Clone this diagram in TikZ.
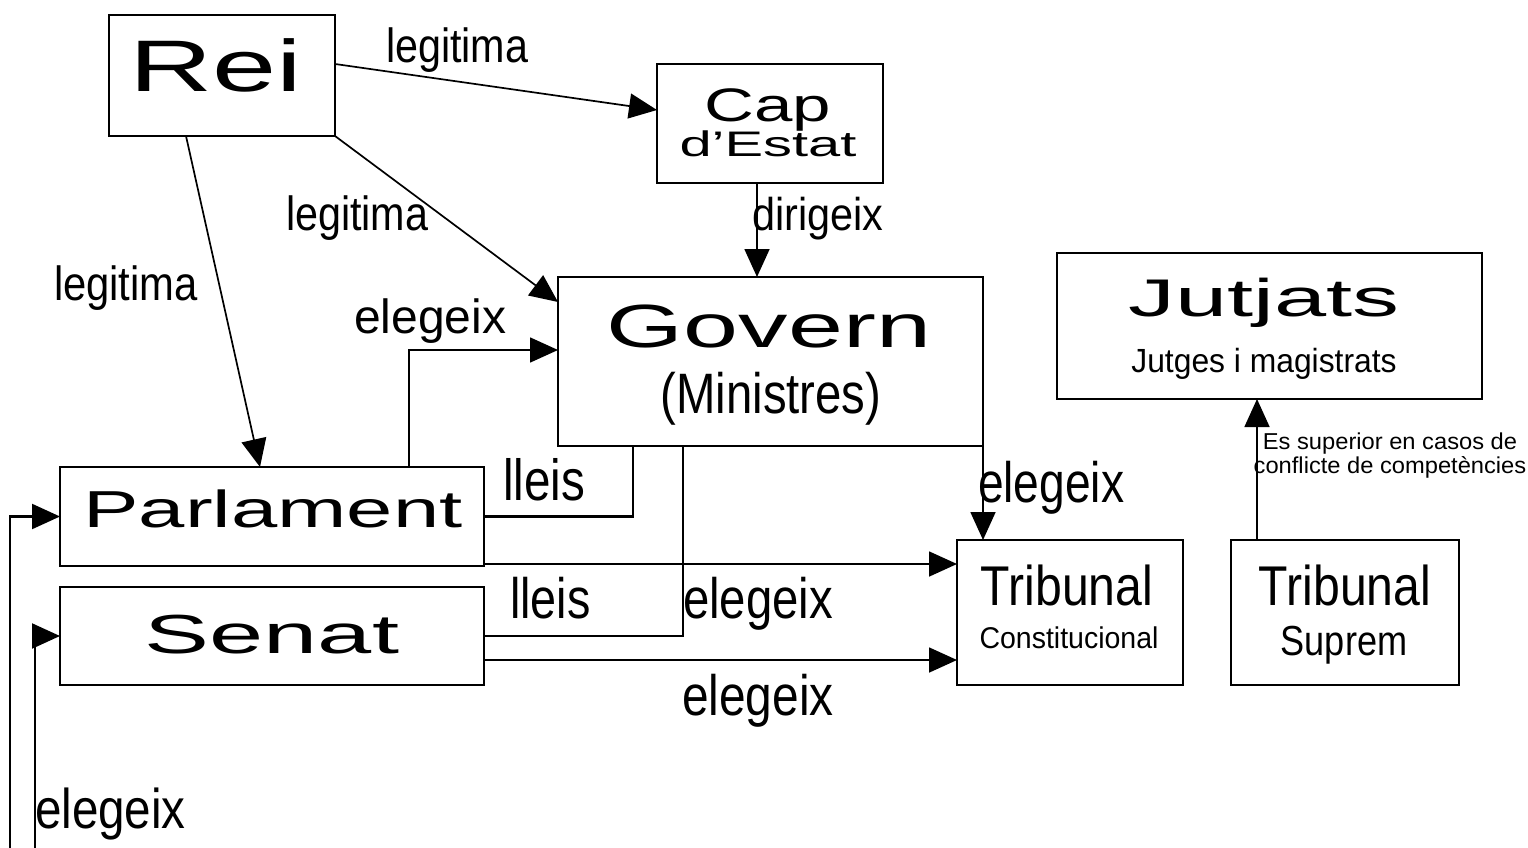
\documentclass[tikz,border=0pt]{standalone}
\usepackage{fontspec}
\setmainfont{Liberation Sans}
\usetikzlibrary{arrows.meta}
\newcommand\fs[2]{\fontspec[FakeStretch=#2]{Liberation Sans}\fontsize{#1pt}{#1pt}\selectfont}
\newcommand\fsl[3]{\fontspec[FakeStretch=#2]{Liberation Sans}\fontsize{#1pt}{#3pt}\selectfont}
\begin{document}
\begin{tikzpicture}[x=1pt,y=-1pt,
  box/.style={draw, line width=1.2pt, outer sep=0pt, inner sep=0pt},
  txt/.style={inner sep=0pt, outer sep=0pt, anchor=base},
  lab/.style={inner sep=0pt, outer sep=0pt, anchor=base west},
  conn/.style={line width=1.7pt},
  arr/.style={conn, -{Triangle[length=28pt,width=25pt]}},
  heavy/.style={line width=2.6pt}
]
\useasboundingbox[fill=white] (0,0) rectangle (1528,848);

% boxes
\node[box, minimum width=226pt, minimum height=121pt] (rei) at (222,75.5) {};
\node[box, minimum width=226pt, minimum height=119pt] (cap) at (770,123.5) {};
\node[box, minimum width=425pt, minimum height=169pt] (gov) at (770.5,361.5) {};
\node[box, minimum width=425pt, minimum height=146pt] (jut) at (1269.5,326) {};
\node[box, minimum width=424pt, minimum height=99pt] (parl) at (272,516.5) {};
\node[box, minimum width=424pt, minimum height=98pt] (sen) at (272,636) {};
\node[box, minimum width=226pt, minimum height=145pt] (tc) at (1070,612.5) {};
\node[box, minimum width=228pt, minimum height=145pt] (ts) at (1345,612.5) {};

% box texts
\node[txt, font=\fs{73}{1.58}] (trei) at (216,92) {Rei};
\node[txt, font=\fs{47}{1.47}] (tcap) at (768,122) {Cap};
\node[txt, font=\fs{35.5}{1.63}] (test) at (768,157) {d’Estat};
\node[txt, font=\fs{61}{1.62}] (tgov) at (769,347) {Govern};
\node[txt, font=\fs{57}{0.83}] (tmin) at (771,413) {(Ministres)};
\node[txt, font=\fs{53}{1.77}] (tjut) at (1264,316) {Jutjats};
\node[txt, font=\fs{33.5}{0.95}] (tjm) at (1264,372) {Jutges i magistrats};
\node[txt, font=\fs{52}{1.6}] (tparl) at (273,527) {Parlament};
\node[txt, font=\fs{55}{1.77}] (tsen) at (272,653) {Senat};
\node[txt, font=\fs{56}{0.86}] (ttc) at (1067,605) {Tribunal};
\node[txt, font=\fs{30}{0.95}] (tcon) at (1069,648) {Constitucional};
\node[txt, font=\fs{56}{0.86}] (tts) at (1345,605) {Tribunal};
\node[txt, font=\fs{42}{0.86}] (tsup) at (1344,655) {Suprem};

% connectors
\draw[arr] ([yshift=11.5pt]rei.east) -- ([yshift=13.5pt]cap.west);
\draw[arr] (rei.south east) -- ([yshift=59.5pt]gov.west);
\draw[arr] ([xshift=-36pt]rei.south) -- ([xshift=-12pt]parl.north);
\draw[arr] ([xshift=-13pt]cap.south) -- ([xshift=-13pt]cap.south |- gov.north);
\draw[arr] ([xshift=137pt]parl.north) |- ([yshift=11.5pt]gov.west);
\draw[heavy] ([xshift=-137.5pt]gov.south) |- (parl.east);
\draw[heavy] ([xshift=-87.5pt]gov.south) |- (sen.east);
\draw[arr] ([yshift=-47.5pt]parl.east) -- ([yshift=-47.5pt]parl.east -| tc.west);
\draw[arr] ([yshift=-24pt]sen.east) -- ([yshift=-24pt]sen.east -| tc.west);
\draw[arr] (gov.south east) -- (gov.south east |- tc.north);
\draw[arr] ([xshift=-88pt]ts.north) -- ([xshift=-88pt]ts.north |- jut.south);
\coordinate (e1) at (10,848);
\coordinate (e2) at (35,848);
\draw[arr, line width=2.2pt] (e1) |- (parl.west);
\draw[arr, line width=2.2pt] (e2) |- (sen.west);

% connector labels
\node[lab, font=\fs{48}{0.86}] (l1) at (386,63) {legitima};
\node[lab, font=\fs{48}{0.86}] (l2) at (286,230) {legitima};
\node[lab, font=\fs{48}{0.87}] (l3) at (54,300) {legitima};
\node[lab, font=\fs{46}{0.9}] (l4) at (752,230) {dirigeix};
\node[lab, font=\fs{48}{1.0}] (l5) at (354,333) {elegeix};
\node[lab, font=\fs{58}{0.82}] (l6) at (503,500) {lleis};
\node[lab, font=\fs{57}{0.82}] (l7) at (510,618) {lleis};
\node[lab, font=\fs{57}{0.83}] (l8) at (683,618) {elegeix};
\node[lab, font=\fs{57}{0.84}] (l9) at (682,715) {elegeix};
\node[lab, font=\fs{57}{0.81}] (l10) at (978,502) {elegeix};
\node[lab, font=\fs{56}{0.85}] (l11) at (35,828) {elegeix};
\node[inner sep=0pt, outer sep=0pt, anchor=north, align=center, font=\fsl{23}{1.03}{24}] (l12) at (1390,432.5) {Es superior en casos de\\conflicte de competències};
\end{tikzpicture}
\end{document}
